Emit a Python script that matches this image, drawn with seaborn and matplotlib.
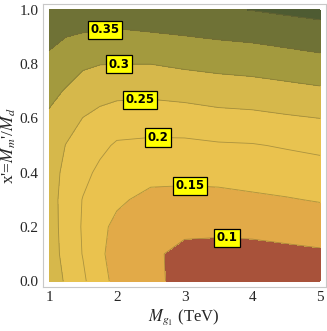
import numpy as np
import matplotlib
matplotlib.use("Agg")
import matplotlib.pyplot as plt
import seaborn as sns
from matplotlib.ticker import MultipleLocator

# ---- data ----
m_g1 = [1.0, 1.25, 1.5, 1.75, 2.0, 2.5, 3.0, 3.5, 4.0, 4.5, 5.0]          # TeV
x_prime = [0.0, 0.1, 0.2, 0.3, 0.4, 0.5, 0.6, 0.7, 0.8, 0.9, 1.0]
# one row per x' value, columns follow m_g1
ratio_grid = [
    [0.280, 0.244, 0.2086, 0.165, 0.138, 0.1116, 0.085, 0.078, 0.078, 0.080, 0.082],
    [0.277, 0.233, 0.198, 0.155, 0.1385, 0.110, 0.085, 0.084, 0.0844, 0.089, 0.0935],
    [0.272, 0.232, 0.1955, 0.160, 0.140, 0.118, 0.113, 0.1105, 0.113, 0.118, 0.123],
    [0.270, 0.232, 0.198, 0.180, 0.157, 0.138, 0.137, 0.137, 0.142, 0.147, 0.153],
    [0.272, 0.238, 0.213, 0.190, 0.176, 0.164, 0.162, 0.165, 0.170, 0.175, 0.180],
    [0.280, 0.2485, 0.228, 0.211, 0.194, 0.190, 0.190, 0.195, 0.197, 0.204, 0.2115],
    [0.292, 0.271, 0.249, 0.237, 0.226, 0.2235, 0.226, 0.234, 0.237, 0.244, 0.250],
    [0.314, 0.296, 0.277, 0.2665, 0.263, 0.261, 0.267, 0.274, 0.278, 0.285, 0.292],
    [0.340, 0.323, 0.307, 0.301, 0.300, 0.300, 0.308, 0.314, 0.3185, 0.3256, 0.333],
    [0.360, 0.350, 0.344, 0.340, 0.338, 0.342, 0.348, 0.354, 0.3585, 0.366, 0.374],
    [0.385, 0.378, 0.382, 0.379, 0.377, 0.385, 0.388, 0.394, 0.401, 0.4085, 0.415],
]
contour_levels = [0.0, 0.10, 0.15, 0.20, 0.25, 0.30, 0.35, 0.40, 1.0]
labelled_levels = [0.10, 0.15, 0.20, 0.25, 0.30, 0.35]
x_ticks = [1, 2, 3, 4, 5]
y_ticks = [0.0, 0.2, 0.4, 0.6, 0.8, 1.0]

band_colors = ["#A8523A", "#E2AA48", "#EAC24E", "#E8C350",
               "#D6B84B", "#A39A3E", "#6F7236", "#4E5B32"]

sns.set_style("white")
plt.rcParams["font.family"] = ["Liberation Serif", "DejaVu Serif"]
plt.rcParams["mathtext.fontset"] = "stix"

fig = plt.figure(figsize=(3.27, 3.31), dpi=100)
ax = fig.add_axes([43 / 327, 1 - 287 / 331, (325.5 - 43) / 327, (287 - 4) / 331])

X, Y = np.meshgrid(m_g1, x_prime)
Z = np.array(ratio_grid)
pal = sns.color_palette(band_colors)
cf = ax.contourf(X, Y, Z, levels=contour_levels, colors=pal)
cl = ax.contour(X, Y, Z, levels=contour_levels[1:-1], colors="#7a6a30",
                linewidths=0.6, alpha=0.55)

label_pos = [(3.63, 0.163), (3.08, 0.36), (2.61, 0.53), (2.34, 0.665),
             (2.03, 0.79), (1.83, 0.925)]
cs_lab = ax.contour(X, Y, Z, levels=labelled_levels, colors="none",
                    linewidths=0)
texts = ax.clabel(cs_lab, levels=labelled_levels, inline=False,
                  manual=label_pos, fmt=lambda v: f"{v:g}", fontsize=8.5)
for t in texts:
    t.set_rotation(0)
    t.set_color("black")
    t.set_family(["DejaVu Sans"])
    t.set_fontweight("bold")
    t.set_bbox(dict(boxstyle="square,pad=0.22", facecolor="#FFFF00",
                    edgecolor="black", linewidth=0.9))
    t.set_zorder(5)

ax.set_xlim(0.911, 5.08)
ax.set_ylim(-0.022, 1.022)
ax.set_xticks(x_ticks)
ax.set_yticks(y_ticks)
ax.set_xticklabels([str(v) for v in x_ticks])
ax.set_yticklabels([f"{v:.1f}" for v in y_ticks])
ax.xaxis.set_minor_locator(MultipleLocator(0.2))
ax.yaxis.set_minor_locator(MultipleLocator(0.05))
ax.tick_params(which="major", direction="in", length=4, width=0.6,
               color="#b0b0b0", labelsize=11, pad=3)
ax.tick_params(which="minor", direction="in", length=2, width=0.5,
               color="#c8c8c8")
ax.tick_params(top=False, right=False, which="both")
for s in ax.spines.values():
    s.set_color("#c8c8c8")
    s.set_linewidth(0.8)

ax.set_xlabel(r"$M_{g_1}$ (TeV)", fontsize=12, labelpad=2)
ax.set_ylabel(r"x'=$M_m$'/$M_d$", fontsize=12.5, labelpad=1)

fig.savefig("out.png", dpi=100)
